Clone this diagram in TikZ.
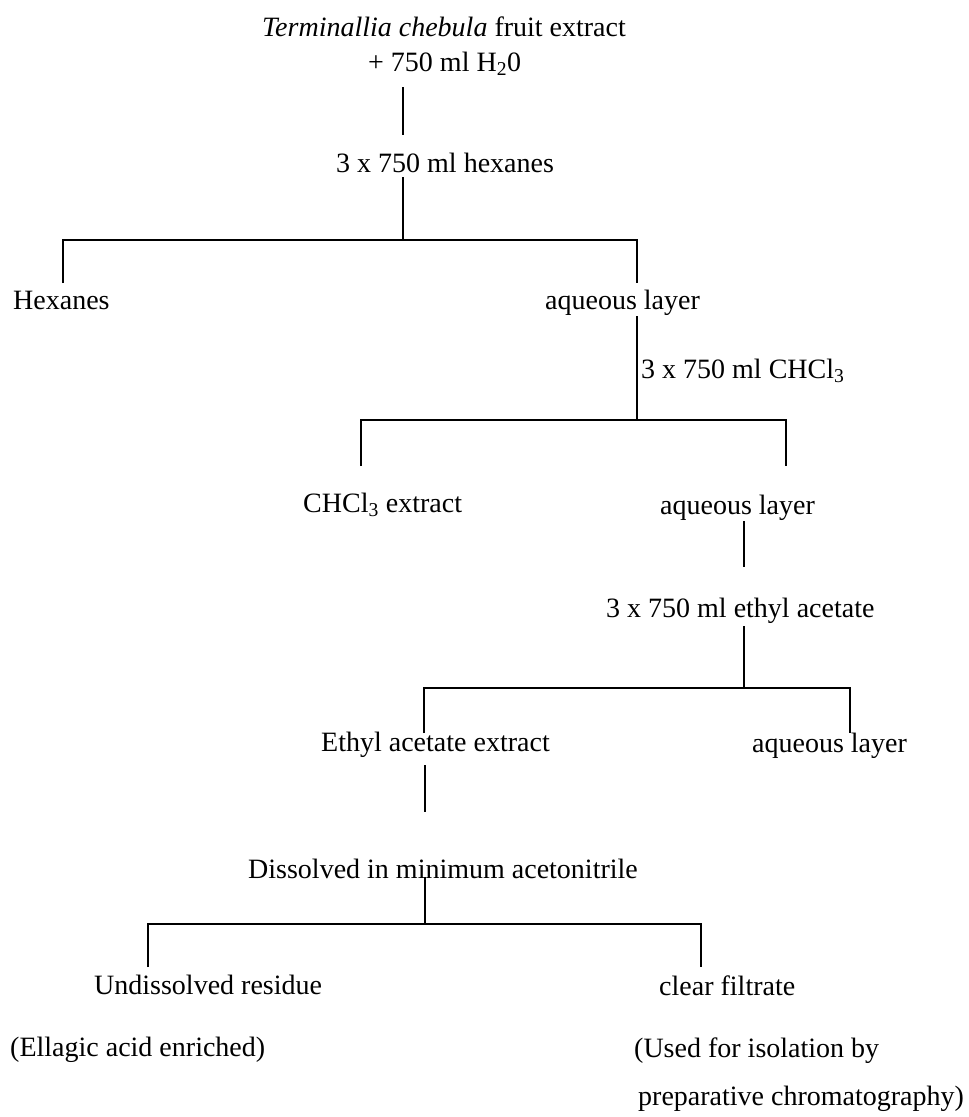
\documentclass[tikz,border=0pt]{standalone}
\usepackage{fontspec}
\setmainfont{Liberation Serif}
\begin{document}
\begin{tikzpicture}[x=1pt,y=-1pt,
  lbl/.style={inner sep=0pt,anchor=mid west,font=\fontsize{28}{34}\selectfont},
  conn/.style={line width=1.8pt,line cap=butt}]
\useasboundingbox[fill=white] (0,0) rectangle (969,1117);
% texts
\node[lbl] (title) at (262,34) {\textit{Terminallia chebula} fruit extract};
\node[lbl] (water) at (368,69) {+ 750 ml H\textsubscript{2}0};
\node[lbl] (hexsolv) at (336,170) {3 x 750 ml hexanes};
\node[lbl] (hex) at (13,307) {Hexanes};
\node[lbl] (aq1) at (545,307) {aqueous layer};
\node[lbl] (chsolv) at (641,376) {3 x 750 ml CHCl\textsubscript{3}};
\node[lbl] (chext) at (303,510) {CHCl\textsubscript{3} extract};
\node[lbl] (aq2) at (660,512) {aqueous layer};
\node[lbl] (easolv) at (606,615) {3 x 750 ml ethyl acetate};
\node[lbl] (eaext) at (321,749) {Ethyl acetate extract};
\node[lbl] (aq3) at (752,750) {aqueous layer};
\node[lbl] (diss) at (248,876) {Dissolved in minimum acetonitrile};
\node[lbl] (resid) at (94,992) {Undissolved residue};
\node[lbl] (filt) at (659,993) {clear filtrate};
\node[lbl] (ella) at (10,1054) {(Ellagic acid enriched)};
\node[lbl] (used) at (634,1055) {(Used for isolation by};
\node[lbl] (prep) at (638,1103) {preparative chromatography)};
% joints
\coordinate (a1) at (403,87);  \coordinate (a2) at (403,135);
\coordinate (b1) at (403,177); \coordinate (b2) at (403,240);
\coordinate (h1l) at (63,240); \coordinate (h1r) at (637,240);
\coordinate (h1lb) at (63,283); \coordinate (h1rb) at (637,283);
\coordinate (c1) at (637,316); \coordinate (c2) at (637,420);
\coordinate (h2l) at (361,420); \coordinate (h2r) at (786,420);
\coordinate (h2lb) at (361,466); \coordinate (h2rb) at (786,466);
\coordinate (d1) at (744,521); \coordinate (d2) at (744,567);
\coordinate (e1) at (744,626); \coordinate (e2) at (744,688);
\coordinate (h3l) at (424,688); \coordinate (h3r) at (850,688);
\coordinate (h3lb) at (424,733); \coordinate (h3rb) at (850,733);
\coordinate (f1) at (425,765); \coordinate (f2) at (425,812);
\coordinate (g1) at (425,877); \coordinate (g2) at (425,924);
\coordinate (h4l) at (148,924); \coordinate (h4r) at (701,924);
\coordinate (h4lb) at (148,967); \coordinate (h4rb) at (701,967);
% connectors
\draw[conn] (a1) -- (a2);
\draw[conn] (b1) -- (b2);
\draw[conn] (h1lb) -- (h1l) -- (h1r) -- (h1rb);
\draw[conn] (c1) -- (c2);
\draw[conn] (h2lb) -- (h2l) -- (h2r) -- (h2rb);
\draw[conn] (d1) -- (d2);
\draw[conn] (e1) -- (e2);
\draw[conn] (h3lb) -- (h3l) -- (h3r) -- (h3rb);
\draw[conn] (f1) -- (f2);
\draw[conn] (g1) -- (g2);
\draw[conn] (h4lb) -- (h4l) -- (h4r) -- (h4rb);
\end{tikzpicture}
\end{document}
